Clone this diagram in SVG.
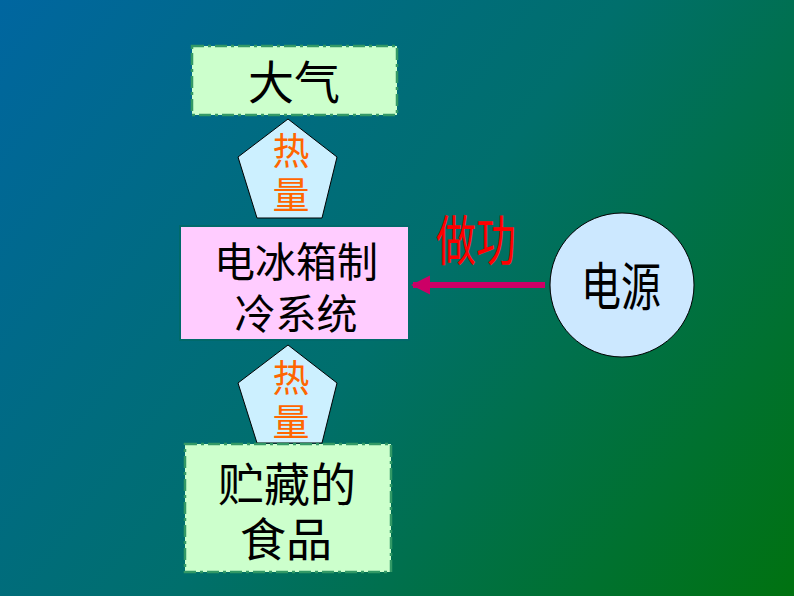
<svg xmlns="http://www.w3.org/2000/svg" width="794" height="596" viewBox="0 0 794 596">
<defs>
<linearGradient id="bg" x1="0" y1="0" x2="794" y2="596" gradientUnits="userSpaceOnUse">
<stop offset="0" stop-color="#0066a0"/>
<stop offset="0.5" stop-color="#006f6c"/>
<stop offset="1" stop-color="#007210"/>
</linearGradient>
<marker id="ah" viewBox="0 0 10 10" refX="9" refY="5" markerWidth="3.2" markerHeight="3.2" orient="auto" markerUnits="strokeWidth">
<path d="M0,0 L10,5 L0,10 Z" fill="#cc0066"/>
</marker>
<style>
.t{font-family:"Liberation Sans","Noto Sans CJK SC",sans-serif;text-anchor:middle}
.green{fill:#ccffcc;stroke:#339966;stroke-width:2.5;stroke-dasharray:12,4,3,4}
.pent{fill:#ccf0ff;stroke:#000;stroke-width:1}
.heat{fill:#ff6600;font-size:37px}
.blk{fill:#000}
</style>
</defs>
<rect width="794" height="596" fill="url(#bg)"/>
<g id="connectors">
<line x1="545" y1="285" x2="413" y2="285" stroke="#cc0066" stroke-width="6" marker-end="url(#ah)"/>
<text class="t" x="476" y="261" fill="#ff0000" font-size="54" textLength="80" lengthAdjust="spacingAndGlyphs">做功</text>
</g>
<g id="atmosphere">
<rect class="green" x="192" y="46" width="205" height="69"/>
<text class="t blk" x="294" y="99" font-size="46">大气</text>
</g>
<g id="heat1">
<polygon class="pent" points="288,119 337,157 322,218 257,218 238,157"/>
<text class="t heat" x="291" y="165"><tspan x="291">热</tspan><tspan x="291" dy="44">量</tspan></text>
</g>
<g id="fridge">
<rect x="180" y="226" width="229" height="114" fill="#ffccff" stroke="#006a6a" stroke-width="2"/>
<text class="t blk" x="296" y="277" font-size="41"><tspan x="296">电冰箱制</tspan><tspan x="296" dy="52">冷系统</tspan></text>
</g>
<g id="heat2">
<polygon class="pent" points="288,345 337,383 322,443 257,443 238,383"/>
<text class="t heat" x="291" y="392"><tspan x="291">热</tspan><tspan x="291" dy="44">量</tspan></text>
</g>
<g id="food">
<rect class="green" x="185" y="444" width="206" height="128"/>
<text class="t blk" x="287" y="501" font-size="46"><tspan x="287">贮藏的</tspan><tspan x="286" dy="55">食品</tspan></text>
</g>
<g id="power">
<circle cx="622" cy="285" r="72" fill="#cce8ff" stroke="#000" stroke-width="1"/>
<text class="t blk" x="621" y="306" font-size="52" textLength="80" lengthAdjust="spacingAndGlyphs">电源</text>
</g>
</svg>
